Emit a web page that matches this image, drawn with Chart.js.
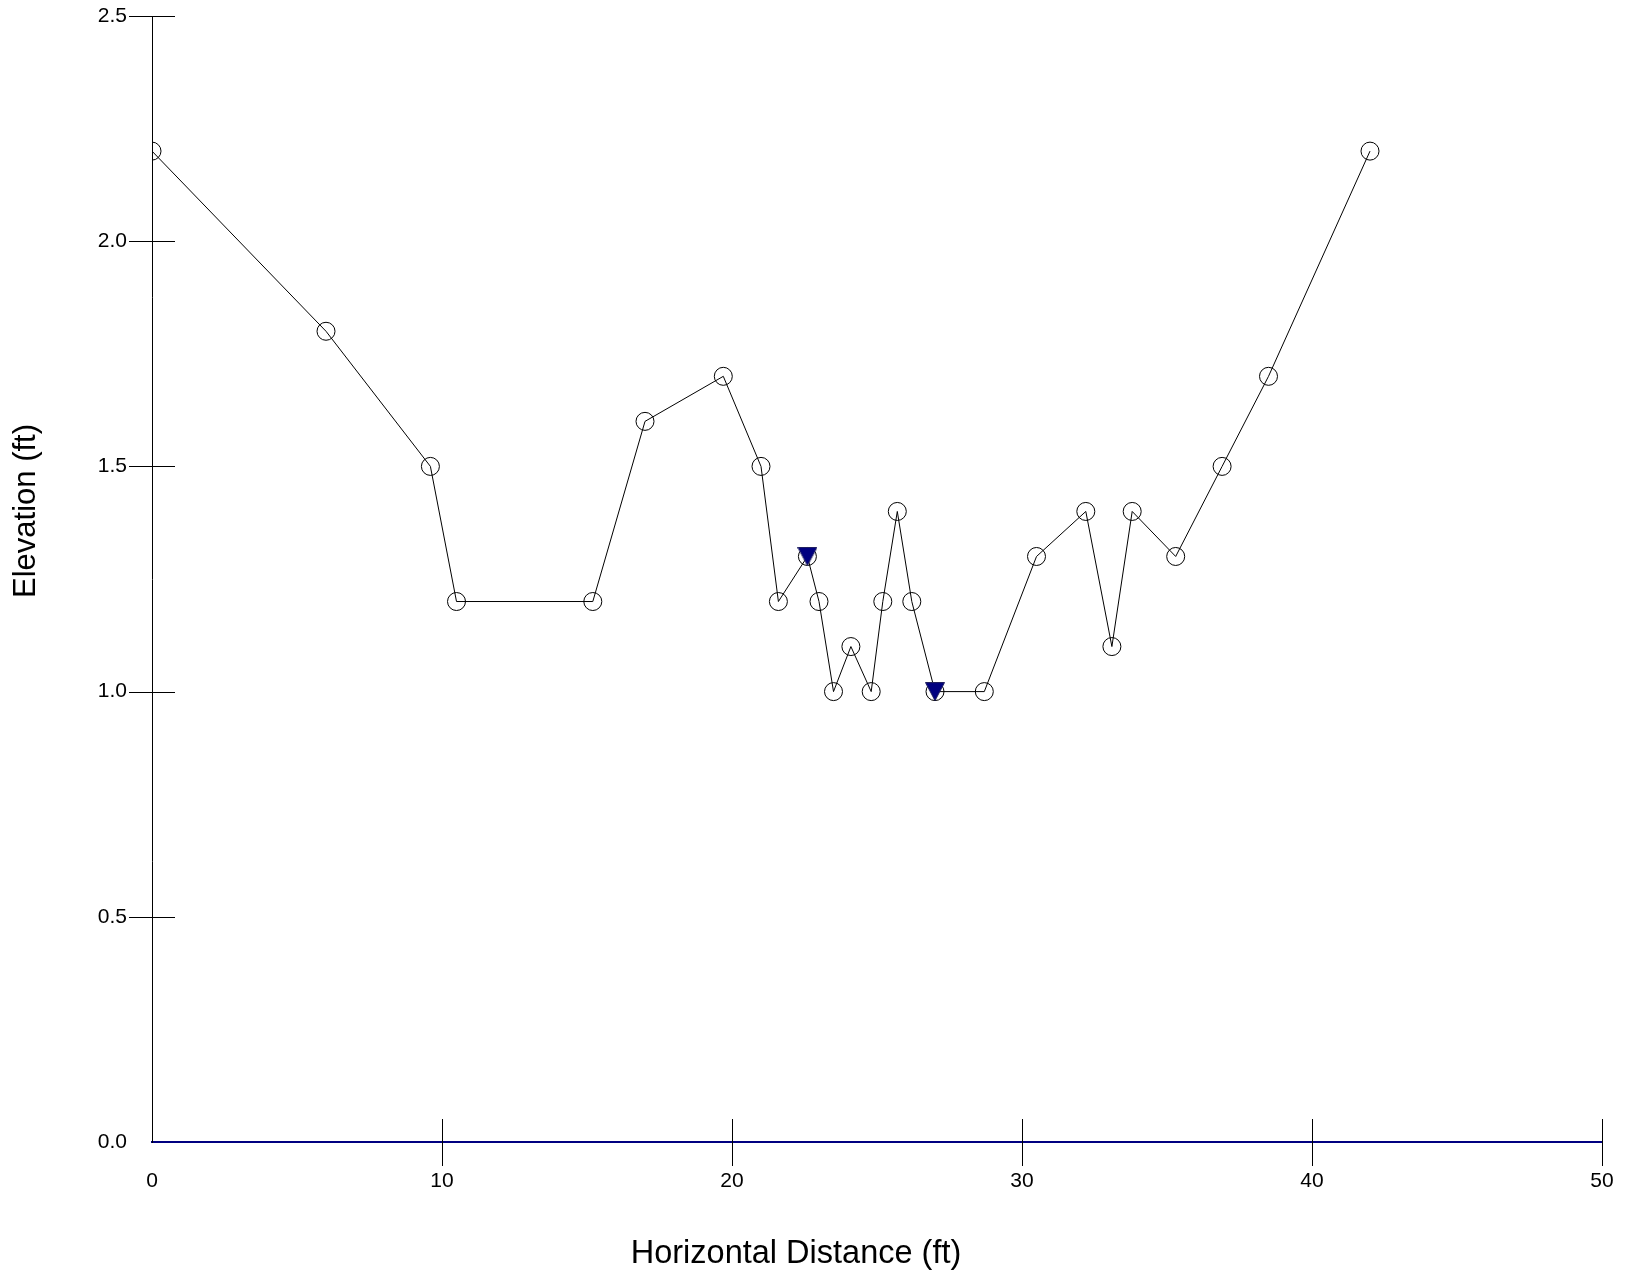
<!DOCTYPE html>
<html>
<head>
<meta charset="utf-8">
<title>Cross Section</title>
<script src="https://cdn.jsdelivr.net/npm/chart.js@4.4.1/dist/chart.umd.min.js"></script>
<style>
    body { margin: 0; background: #ffffff; }
    canvas { display: block; }
</style>
</head>
<body>
<canvas id="sectionChart" width="1627" height="1275"></canvas>
<script>
// Surveyed ground points
const stations = [0, 6.0, 9.6, 10.5, 15.2, 17.0, 19.7, 21.0, 21.6, 22.6, 23.0, 23.5, 24.1, 24.8,
    25.2, 25.7, 26.2, 27.0, 28.7, 30.5, 32.2, 33.1, 33.8, 35.3, 36.9, 38.5, 42.0];
const elevations = [2.2, 1.8, 1.5, 1.2, 1.2, 1.6, 1.7, 1.5, 1.2, 1.3, 1.2, 1.0, 1.1, 1.0,
    1.2, 1.4, 1.2, 1.0, 1.0, 1.3, 1.4, 1.1, 1.4, 1.3, 1.5, 1.7, 2.2];

// Water surface markers
const waterStations = [22.6, 27.0];
const waterElevations = [1.3, 1.0];

// Axis ticks
const xTicks = [0, 10, 20, 30, 40, 50];
const yTicks = [0, 0.5, 1.0, 1.5, 2.0, 2.5];

const xTitle = 'Horizontal Distance (ft)';
const yTitle = 'Elevation (ft)';

const FONT = "'Liberation Sans', Arial, sans-serif";

function toPoints(xs, ys) {
    return xs.map((x, i) => ({ x: x, y: ys[i] }));
}

// inverted triangle, centred on its bounding box
function makeTriangle() {
    const c = document.createElement('canvas');
    c.width = 20;
    c.height = 19;
    const g = c.getContext('2d');
    g.fillStyle = '#000080';
    g.strokeStyle = '#202060';
    g.lineWidth = 1;
    g.beginPath();
    g.moveTo(0.5, 0.5);
    g.lineTo(19.5, 0.5);
    g.lineTo(10, 18.5);
    g.closePath();
    g.fill();
    g.stroke();
    return c;
}

// tick marks that cross the axes, origin skipped
const crossTicks = {
    id: 'crossTicks',
    afterDatasetsDraw(chart) {
        const ctx = chart.ctx;
        const xs = chart.scales.x;
        const ys = chart.scales.y;
        const x0 = xs.getPixelForValue(0);
        const y0 = ys.getPixelForValue(0);
        ctx.save();
        ctx.strokeStyle = '#000000';
        ctx.lineWidth = 1;
        ctx.beginPath();
        yTicks.forEach(v => {
            if (v === 0) return;
            const py = Math.round(ys.getPixelForValue(v)) + 0.5;
            ctx.moveTo(x0 - 23, py);
            ctx.lineTo(x0 + 23, py);
        });
        xTicks.forEach(v => {
            if (v === 0) return;
            const px = Math.round(xs.getPixelForValue(v)) + 0.5;
            ctx.moveTo(px, y0 - 23);
            ctx.lineTo(px, y0 + 24);
        });
        ctx.stroke();
        ctx.restore();
    }
};

// axis titles, placed where the original plot had them
const axisTitles = {
    id: 'axisTitles',
    afterDraw(chart) {
        const ctx = chart.ctx;
        ctx.save();
        ctx.fillStyle = '#000000';
        ctx.textAlign = 'center';
        ctx.textBaseline = 'alphabetic';
        ctx.font = '32.5px ' + FONT;
        ctx.fillText(xTitle, 796, 1263);
        ctx.font = '31px ' + FONT;
        ctx.translate(35, 511);
        ctx.rotate(-Math.PI / 2);
        ctx.fillText(yTitle, 0, 0);
        ctx.restore();
    }
};

document.addEventListener('DOMContentLoaded', function() {
    const ctx = document.getElementById('sectionChart').getContext('2d');

    new Chart(ctx, {
        type: 'scatter',
        data: {
            datasets: [{
                label: 'Ground',
                data: toPoints(stations, elevations),
                showLine: true,
                borderColor: '#000000',
                borderWidth: 1,
                pointStyle: 'circle',
                pointRadius: 9,
                pointBorderWidth: 1,
                pointBorderColor: '#000000',
                pointBackgroundColor: 'rgba(0,0,0,0)',
                tension: 0,
                order: 2
            }, {
                label: 'Water surface',
                data: toPoints(waterStations, waterElevations),
                showLine: false,
                pointStyle: makeTriangle(),
                pointRadius: 10,
                order: 1
            }]
        },
        options: {
            responsive: false,
            animation: false,
            events: [],
            layout: { padding: { top: 16, right: 25, left: 0, bottom: 0 } },
            plugins: {
                legend: { display: false },
                tooltip: { enabled: false },
                title: { display: false }
            },
            scales: {
                x: {
                    type: 'linear',
                    min: 0,
                    max: 50,
                    afterFit: s => {
                        s.height = 133;
                        s.paddingLeft = 0;
                        s.paddingRight = 0;
                    },
                    afterBuildTicks: s => { s.ticks = xTicks.map(v => ({ value: v })); },
                    grid: { display: false, drawTicks: false },
                    border: { display: true, color: '#000080', width: 2 },
                    ticks: {
                        color: '#000000',
                        padding: 27,
                        maxRotation: 0,
                        font: { family: FONT, size: 21 },
                        callback: v => String(v)
                    }
                },
                y: {
                    type: 'linear',
                    min: 0,
                    max: 2.5,
                    afterFit: s => {
                        s.width = 152;
                        s.paddingTop = 0;
                        s.paddingBottom = 0;
                    },
                    afterBuildTicks: s => { s.ticks = yTicks.map(v => ({ value: v })); },
                    grid: { display: false, drawTicks: false },
                    border: { display: true, color: '#000000', width: 1 },
                    ticks: {
                        color: '#000000',
                        padding: 25,
                        font: { family: FONT, size: 21 },
                        callback: v => Number(v).toFixed(1)
                    }
                }
            }
        },
        plugins: [crossTicks, axisTitles]
    });
});
</script>
</body>
</html>
